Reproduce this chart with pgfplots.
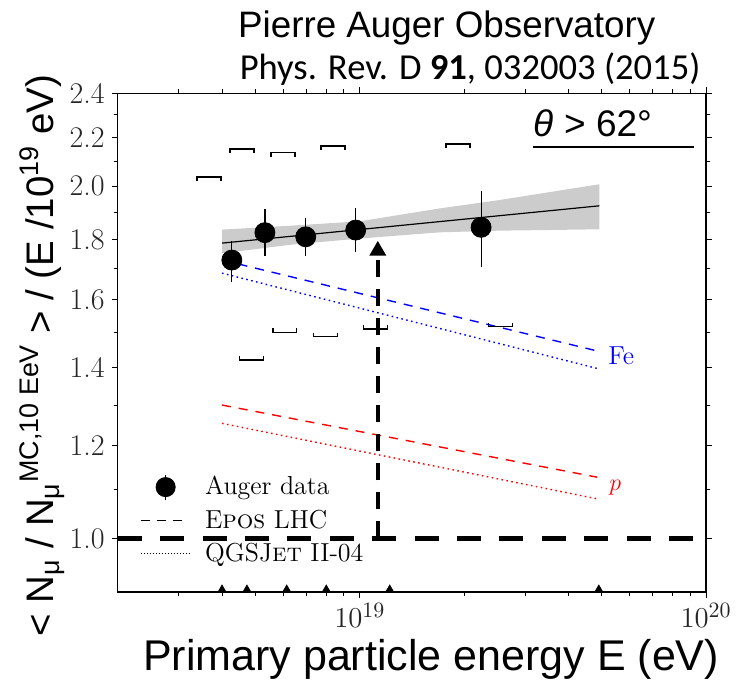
\documentclass[border=0pt]{standalone}
\usepackage{pgfplots}
\pgfplotsset{compat=1.18}
\usepackage{fontspec}
\newfontfamily\arial{Liberation Sans}
\newfontfamily\calibri{Carlito}
\usetikzlibrary{arrows.meta}
\begin{document}
\begin{tikzpicture}
\begin{axis}[
  scale only axis, width=294.15pt, height=249.35pt,
  xmode=log, ymode=log,
  xmin=2e18, xmax=1e20, ymin=0.9, ymax=2.4,
  xtick={1e19,1e20}, xticklabels={$10^{19}$,$10^{20}$},
  minor xtick={3e18,4e18,5e18,6e18,7e18,8e18,9e18,2e19,3e19,4e19,5e19,6e19,7e19,8e19,9e19},
  ytick={1.0,1.2,1.4,1.6,1.8,2.0,2.2,2.4},
  yticklabels={1.0,1.2,1.4,1.6,1.8,2.0,2.2,2.4},
  minor ytick={1.1,1.3,1.5,1.7,1.9,2.1,2.3},
  tick align=outside, tick pos=both,
  major tick length=3pt, minor tick length=2pt,
  axis line style={line width=0.6pt},
  every tick/.style={black, line width=0.5pt},
  yticklabel style={font=\fontsize{15}{17}\selectfont, text=black!85},
  xticklabel style={font=\fontsize{15}{17}\selectfont, text=black!85, yshift=1pt},
  xlabel={Primary particle energy E (eV)},
  xlabel style={font=\arial\fontsize{21.5}{24}\selectfont, at={(rel axis cs:0.5326,-0.1574)}, anchor=base},
  ylabel={< N\textsubscript{μ} / N\textsubscript{μ}\textsuperscript{MC,10 EeV} > / (E /10\textsuperscript{19} eV)},
  ylabel style={font=\arial\fontsize{19.2}{21}\selectfont, at={(rel axis cs:-0.110,0.474)}, anchor=base},
  clip=false,
  legend style={at={(rel axis cs:0.038,0.24)}, anchor=north west, draw=none, fill=none,
    font=\fontsize{13}{15}\selectfont, row sep=2pt, inner sep=0pt, outer sep=0pt,
    /tikz/every odd column/.append style={column sep=5pt}},
  legend cell align=left,
]
% fit band
\addplot[fill=black!20, draw=none, forget plot] coordinates {
 (4e18,1.836) (6.31e18,1.850) (1e19,1.866) (1.7e19,1.914) (2.512e19,1.945) (4.92e19,2.007)
 (4.92e19,1.837) (2.512e19,1.832) (1.7e19,1.826) (1e19,1.804) (6.31e18,1.782) (4e18,1.752)
} -- cycle;
\addplot[black, line width=0.6pt, forget plot] coordinates {(4e18,1.7875) (4.92e19,1.924)};
% models
\addplot[blue, line width=0.7pt, dash pattern=on 4.5pt off 4pt, forget plot] coordinates {(4e18,1.729) (4.85e19,1.446)};
\addplot[blue, line width=0.7pt, dash pattern=on 0.8pt off 1.7pt, forget plot] coordinates {(4e18,1.685) (4.85e19,1.397)};
\addplot[red, line width=0.7pt, dash pattern=on 4.5pt off 4pt, forget plot] coordinates {(4e18,1.300) (4.85e19,1.128)};
\addplot[red, line width=0.7pt, dash pattern=on 0.8pt off 1.7pt, forget plot] coordinates {(4e18,1.254) (4.85e19,1.081)};
% reference line and arrow
\addplot[black, line width=2.8pt, dash pattern=on 12pt off 9.2pt, forget plot] coordinates {(2e18,1.0) (1e20,1.0)};
\addplot[black, line width=2.3pt, dash pattern=on 8.5pt off 6pt, -{Triangle[length=7.5pt,width=8pt]}, forget plot] coordinates {(1.127e19,1.0) (1.127e19,1.796)};
% systematic brackets (upper)
\addplot[black, line width=0.75pt, forget plot] coordinates {(3.389e18,2.020) (3.389e18,2.036) (3.975e18,2.036) (3.975e18,2.020)};
\addplot[black, line width=0.75pt, forget plot] coordinates {(4.220e18,2.133) (4.220e18,2.150) (4.949e18,2.150) (4.949e18,2.133)};
\addplot[black, line width=0.75pt, forget plot] coordinates {(5.540e18,2.119) (5.540e18,2.136) (6.498e18,2.136) (6.498e18,2.119)};
\addplot[black, line width=0.75pt, forget plot] coordinates {(7.729e18,2.147) (7.729e18,2.164) (9.065e18,2.164) (9.065e18,2.147)};
\addplot[black, line width=0.75pt, forget plot] coordinates {(1.773e19,2.155) (1.773e19,2.172) (2.079e19,2.172) (2.079e19,2.155)};
% systematic brackets (lower)
\addplot[black, line width=0.75pt, forget plot] coordinates {(4.497e18,1.431) (4.497e18,1.420) (5.274e18,1.420) (5.274e18,1.431)};
\addplot[black, line width=0.75pt, forget plot] coordinates {(5.605e18,1.512) (5.605e18,1.500) (6.574e18,1.500) (6.574e18,1.512)};
\addplot[black, line width=0.75pt, forget plot] coordinates {(7.350e18,1.499) (7.350e18,1.487) (8.621e18,1.487) (8.621e18,1.499)};
\addplot[black, line width=0.75pt, forget plot] coordinates {(1.025e19,1.522) (1.025e19,1.510) (1.202e19,1.510) (1.202e19,1.522)};
\addplot[black, line width=0.75pt, forget plot] coordinates {(2.355e19,1.529) (2.355e19,1.517) (2.762e19,1.517) (2.762e19,1.529)};
% data
\addplot[black, only marks, mark=*, mark size=5pt, forget plot,
  error bars/.cd, y dir=both, y explicit, error mark=none,
  error bar style={line width=0.6pt}] coordinates {
 (4.27e18,1.729) += (0,0.067) -= (0,0.072)
 (5.32e18,1.825) += (0,0.086) -= (0,0.082)
 (6.98e18,1.810) += (0,0.069) -= (0,0.067)
 (9.73e18,1.834) += (0,0.080) -= (0,0.078)
 (2.24e19,1.844) += (0,0.138) -= (0,0.139)
};
% bin edges
\addplot[black, only marks, mark=triangle*, mark size=2.3pt, forget plot] coordinates {
 (4.0e18,0.9041) (4.72e18,0.9041) (6.15e18,0.9041) (8.0e18,0.9041) (1.22e19,0.9041) (4.9e19,0.9041)};
% legend
\addlegendimage{legend image code/.code={\draw[black, line width=0.6pt] (12.5pt,-6.3pt) -- (12.5pt,6.3pt); \fill[black] (12.5pt,0pt) circle (4.8pt);}}
\addlegendentry{Auger data}
\addlegendimage{legend image code/.code={\draw[black, line width=0.5pt, dash pattern=on 4.5pt off 3.5pt] (0pt,0pt) -- (23pt,0pt);}}
\addlegendentry{E\textsc{pos} LHC}
\addlegendimage{legend image code/.code={\draw[black, line width=0.5pt, dash pattern=on 0.6pt off 0.9pt] (0pt,0pt) -- (25pt,0pt);}}
\addlegendentry{QGSJ\textsc{et} II-04}
% annotations
\node[anchor=base west, inner sep=0pt, text=blue, font=\fontsize{13}{15}\selectfont] at (rel axis cs:0.8333,0.4572) {Fe};
\node[anchor=base west, inner sep=0pt, text=red, font=\fontsize{13}{15}\selectfont] at (rel axis cs:0.835,0.2045) {$p$};
\node[anchor=base, font=\arial\fontsize{18.4}{20}\selectfont] at (rel axis cs:0.5591,1.1129) {Pierre Auger Observatory};
\node[anchor=base, font=\calibri\fontsize{18.3}{20}\selectfont] at (rel axis cs:0.5988,1.0267) {Phys. Rev. D \textbf{91}, 032003 (2015)};
\node[anchor=base west, inner sep=0pt, font=\arial\fontsize{18.5}{20}\selectfont] at (rel axis cs:0.7066,0.9124) {\textit{θ} > 62°};
\draw[line width=0.75pt] (rel axis cs:0.7066,0.8923) -- (rel axis cs:0.9799,0.8923);
\end{axis}
\pgfresetboundingbox
\path[use as bounding box] ([xshift=-58.85pt,yshift=-43.5pt]current axis.south west) rectangle ([xshift=20pt,yshift=46.65pt]current axis.north east);
\end{tikzpicture}
\end{document}
